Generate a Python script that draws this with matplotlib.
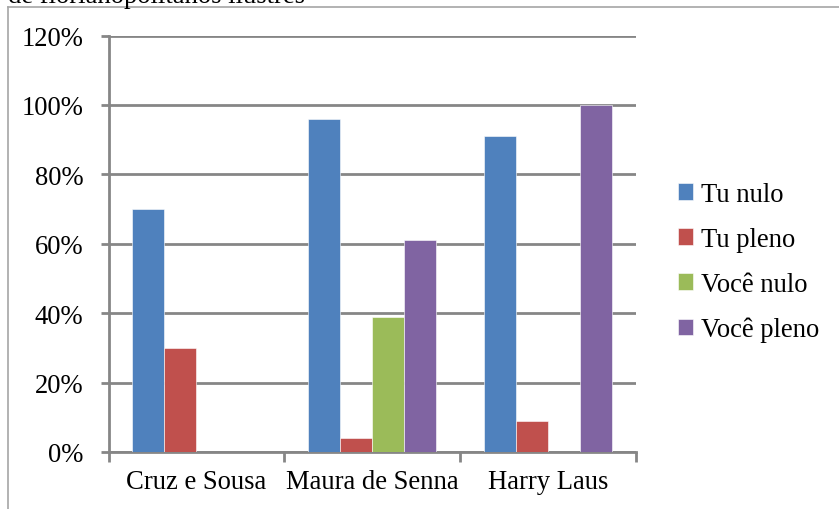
import matplotlib
matplotlib.use("Agg")
import matplotlib.pyplot as plt
from matplotlib.lines import Line2D
import numpy as np

categories = ["Cruz e Sousa", "Maura de Senna", "Harry Laus"]
series_names = ["Tu nulo", "Tu pleno", "Você nulo", "Você pleno"]
tu_nulo = [70, 96, 91]
tu_pleno = [30, 4, 9]
voce_nulo = [0, 39, 0]
voce_pleno = [0, 61, 100]
y_ticks = [0, 20, 40, 60, 80, 100, 120]
y_labels = ["0%", "20%", "40%", "60%", "80%", "100%", "120%"]

colors = ["#4F81BD", "#C0504D", "#9BBB59", "#8064A2"]
grid_color = "#868686"

plt.rcParams["font.family"] = ["Liberation Serif", "DejaVu Serif"]
W, H = 839, 510
fig = plt.figure(figsize=(W / 100, H / 100), dpi=100)

# outer frame lines (left and top)
fig.add_artist(Line2D([8 / W, 8 / W], [0, 1 - 8 / H], color="#a6a6a6", lw=1.2))
fig.add_artist(Line2D([8 / W, 1], [1 - 7.5 / H, 1 - 7.5 / H], color="#a6a6a6", lw=1.2))

# caption line running off the top edge
fig.text(8 / W, 1 - 3 / H, "de florianopolitanos ilustres", fontsize=19.2,
         ha="left", va="baseline", color="black")

ax = fig.add_axes([108.5 / W, 1 - 453 / H, (636 - 108.5) / W, (453 - 36.5) / H])

series = [tu_nulo, tu_pleno, voce_nulo, voce_pleno]
x = np.arange(len(categories))
bw = 0.182
for i, (vals, c, name) in enumerate(zip(series, colors, series_names)):
    ax.bar(x + (i - 1.5) * bw, vals, width=bw, color=c, label=name,
           edgecolor="white", linewidth=0.4, zorder=3)

ax.set_xlim(-0.5, 2.5)
ax.set_ylim(0, 120)
ax.set_yticks(y_ticks)
ax.set_yticklabels(y_labels, fontsize=19.2)
ax.yaxis.grid(True, color=grid_color, lw=2, zorder=0)
ax.set_axisbelow(True)

ax.set_xticks([-0.5, 0.5, 1.5, 2.5])
ax.set_xticklabels([])
ax.set_xticks(x, minor=True)
ax.set_xticklabels(categories, minor=True, fontsize=19.2)
ax.tick_params(axis="x", which="minor", length=0, pad=12)
ax.tick_params(axis="x", which="major", length=7, width=2, color=grid_color)
ax.tick_params(axis="y", length=6, width=2, color=grid_color, pad=12)

for s in ["top", "right"]:
    ax.spines[s].set_visible(False)
for s in ["left", "bottom"]:
    ax.spines[s].set_color(grid_color)
    ax.spines[s].set_linewidth(2)

ax.legend(loc="center left", bbox_to_anchor=(667 / W, 1 - 263 / H),
          bbox_transform=fig.transFigure, frameon=False, fontsize=19.2,
          handlelength=0.58, handleheight=0.58, handletextpad=0.3,
          labelspacing=0.75, borderaxespad=0)

fig.savefig("out.png", dpi=100)
